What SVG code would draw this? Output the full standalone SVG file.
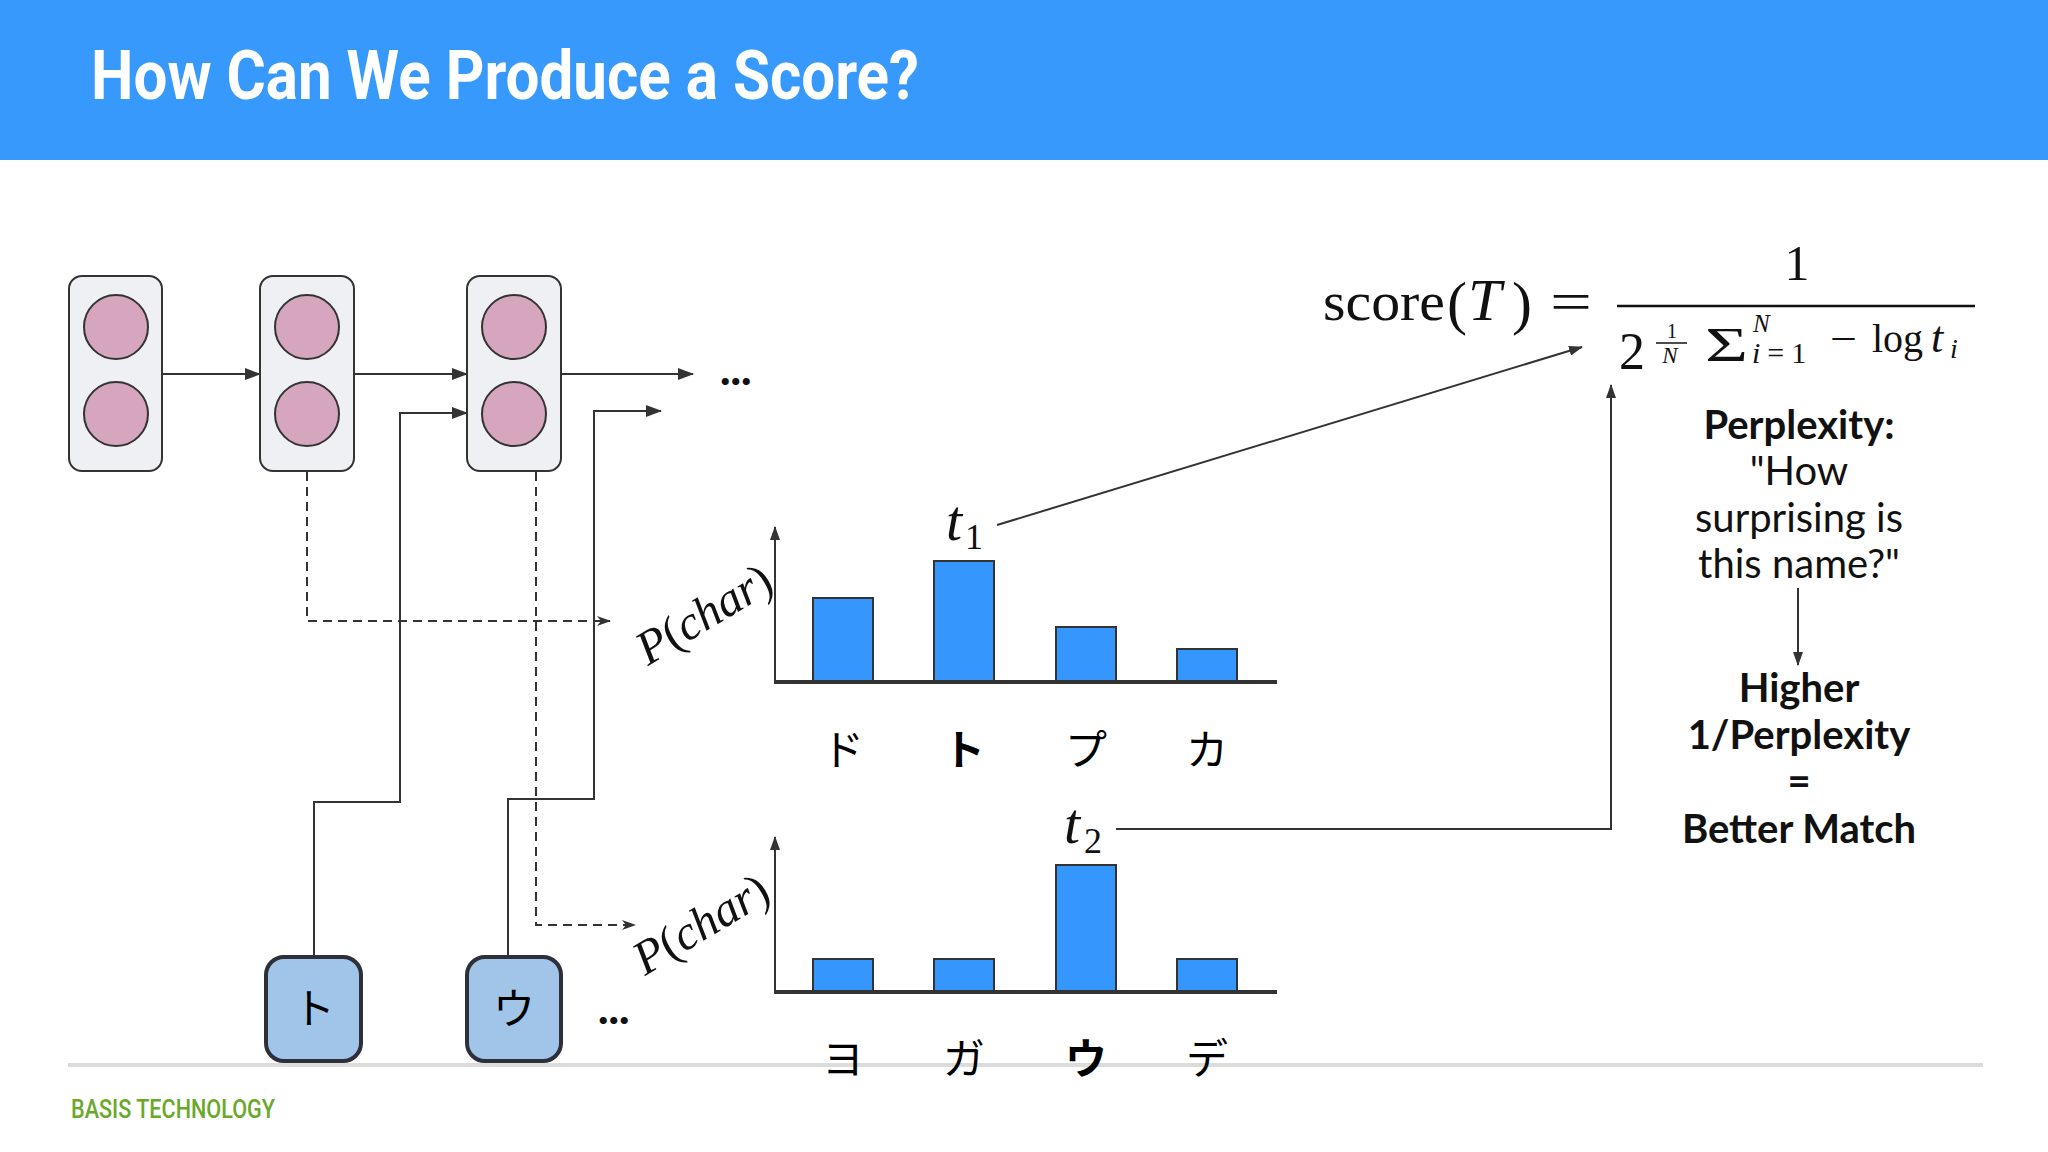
<svg xmlns="http://www.w3.org/2000/svg" width="2048" height="1152" viewBox="0 0 2048 1152">
<defs>
<style>
.cell{fill:#eff0f4;stroke:#333;stroke-width:2}
.unit{fill:#d5a6bd;stroke:#333;stroke-width:2}
.inp{fill:#a0c5e9;stroke:#2d3038;stroke-width:4}
.bar{fill:#3597fd;stroke:#333;stroke-width:2}
.ln{fill:none;stroke:#333;stroke-width:2}
.dash{fill:none;stroke:#333;stroke-width:2;stroke-dasharray:9 6}
.kana{font-family:"Noto Sans CJK JP",sans-serif;font-size:42px;fill:#000;text-anchor:middle}
.math{font-family:"Liberation Serif","Times New Roman",serif;fill:#111}
.it{font-style:italic}
.lato{font-family:Lato,"Open Sans",sans-serif;font-size:40px;fill:#111;text-anchor:middle}
.dots{font-family:Lato,"Open Sans",sans-serif;font-size:44px;font-weight:900;fill:#111}
</style>
<marker id="ah" markerUnits="userSpaceOnUse" markerWidth="16" markerHeight="12" refX="15" refY="6" orient="auto"><path d="M0,0 L16,6 L0,12 z" fill="#333"/></marker>
<marker id="ahs" markerUnits="userSpaceOnUse" markerWidth="14" markerHeight="10" refX="13" refY="5" orient="auto"><path d="M0,0 L14,5 L0,10 z" fill="#333"/></marker>
<marker id="ahd" markerUnits="userSpaceOnUse" markerWidth="14" markerHeight="10" refX="13" refY="5" orient="auto"><path d="M0,0 L14,5 L0,10 L4,5 z" fill="#333"/></marker>
</defs>
<rect width="2048" height="1152" fill="#fff"/>
<g id="header">
<rect x="0" y="0" width="2048" height="160" fill="#3899fc"/>
<text x="91" y="99" font-family="Roboto,'DejaVu Sans Condensed',sans-serif" font-weight="700" font-size="69" fill="#fff" textLength="828" lengthAdjust="spacingAndGlyphs">How Can We Produce a Score?</text>
</g>
<g id="footer">
<line x1="68" y1="1065" x2="1983" y2="1065" stroke="#dcdcdc" stroke-width="4"/>
<text x="71" y="1118" font-family="Roboto,'DejaVu Sans Condensed',sans-serif" font-weight="500" font-size="25" fill="#6aa82a" textLength="204" lengthAdjust="spacingAndGlyphs">BASIS TECHNOLOGY</text>
</g>
<g id="connectors">
<line class="ln" x1="162" y1="374" x2="260" y2="374" marker-end="url(#ah)"/>
<line class="ln" x1="354" y1="374" x2="467" y2="374" marker-end="url(#ah)"/>
<line class="ln" x1="561" y1="374" x2="693" y2="374" marker-end="url(#ah)"/>
<polyline class="ln" points="314,955 314,802 400,802 400,413 467,413" marker-end="url(#ah)"/>
<polyline class="ln" points="508,955 508,799 594,799 594,411 661,411" marker-end="url(#ah)"/>
<polyline class="dash" points="307,472 307,621 610,621" marker-end="url(#ahd)"/>
<polyline class="dash" points="536,472 536,925 635,925" marker-end="url(#ahd)"/>
<line class="ln" x1="997" y1="525" x2="1582" y2="347" marker-end="url(#ahs)"/>
<polyline class="ln" points="1116,829 1611,829 1611,385" marker-end="url(#ahs)"/>
<line class="ln" x1="1798" y1="588" x2="1798" y2="665" marker-end="url(#ahs)"/>
</g>
<g id="cell1">
<rect class="cell" x="69" y="276" width="93" height="195" rx="13"/>
<ellipse class="unit" cx="116" cy="327" rx="32" ry="32"/>
<ellipse class="unit" cx="116" cy="414" rx="32" ry="32"/>
</g>
<g id="cell2">
<rect class="cell" x="260" y="276" width="94" height="195" rx="13"/>
<ellipse class="unit" cx="307" cy="327" rx="32" ry="32"/>
<ellipse class="unit" cx="307" cy="414" rx="32" ry="32"/>
</g>
<g id="cell3">
<rect class="cell" x="467" y="276" width="94" height="195" rx="13"/>
<ellipse class="unit" cx="514" cy="327" rx="32" ry="32"/>
<ellipse class="unit" cx="514" cy="414" rx="32" ry="32"/>
</g>
<g id="dots-top"><text class="dots" x="720" y="385">...</text></g>
<g id="input1">
<rect class="inp" x="266" y="957" width="95" height="104" rx="18"/>
<text class="kana" x="314" y="1024" font-size="44">ト</text>
</g>
<g id="input2">
<rect class="inp" x="467" y="957" width="94" height="104" rx="18"/>
<text class="kana" x="514" y="1024" font-size="44">ウ</text>
</g>
<g id="dots-bottom"><text class="dots" x="598" y="1024">...</text></g>
<g id="chart1">
<line class="ln" x1="775" y1="682" x2="775" y2="527" marker-end="url(#ahs)"/>
<rect class="bar" x="813" y="598" width="60" height="84"/>
<rect class="bar" x="934" y="561" width="60" height="121"/>
<rect class="bar" x="1056" y="627" width="60" height="55"/>
<rect class="bar" x="1177" y="649" width="60" height="33"/>
<line x1="774" y1="682" x2="1277" y2="682" stroke="#333" stroke-width="4"/>
<text class="math" font-size="48" transform="translate(648,666) rotate(-31)"><tspan class="it">P</tspan>(<tspan class="it">char</tspan>)</text>
<text class="math it" x="946" y="540" font-size="58">t</text>
<text class="math" x="965" y="549" font-size="36">1</text>
<text class="kana" x="843" y="765">ド</text>
<text class="kana" x="964" y="765" font-weight="700">ト</text>
<text class="kana" x="1086" y="765">プ</text>
<text class="kana" x="1207" y="765">カ</text>
</g>
<g id="chart2">
<line class="ln" x1="775" y1="992" x2="775" y2="837" marker-end="url(#ahs)"/>
<rect class="bar" x="813" y="959" width="60" height="33"/>
<rect class="bar" x="934" y="959" width="60" height="33"/>
<rect class="bar" x="1056" y="865" width="60" height="127"/>
<rect class="bar" x="1177" y="959" width="60" height="33"/>
<line x1="774" y1="992" x2="1277" y2="992" stroke="#333" stroke-width="4"/>
<text class="math" font-size="48" transform="translate(645,976) rotate(-31)"><tspan class="it">P</tspan>(<tspan class="it">char</tspan>)</text>
<text class="math it" x="1064" y="843" font-size="58">t</text>
<text class="math" x="1084" y="853" font-size="36">2</text>
<text class="kana" x="843" y="1074">ヨ</text>
<text class="kana" x="964" y="1074">ガ</text>
<text class="kana" x="1086" y="1074" font-weight="700">ウ</text>
<text class="kana" x="1207" y="1074">デ</text>
</g>
<g id="formula">
<text class="math" x="1323" y="320" font-size="54" textLength="122" lengthAdjust="spacingAndGlyphs">score</text>
<text class="math" x="1447" y="323" font-size="60">(</text>
<text class="math it" x="1468" y="320" font-size="60">T</text>
<text class="math" x="1512" y="323" font-size="60">)</text>
<text class="math" x="1550" y="320" font-size="54" textLength="42" lengthAdjust="spacingAndGlyphs">=</text>
<text class="math" x="1797" y="280" font-size="50" text-anchor="middle">1</text>
<line x1="1617" y1="306" x2="1975" y2="306" stroke="#111" stroke-width="2.5"/>
<text class="math" x="1619" y="369" font-size="52">2</text>
<text class="math" x="1672" y="338" font-size="20" text-anchor="middle">1</text>
<line x1="1656" y1="343" x2="1687" y2="343" stroke="#111" stroke-width="1.5"/>
<text class="math it" x="1670" y="363" font-size="23" text-anchor="middle">N</text>
<text class="math" x="1705" y="361" font-size="48" textLength="43" lengthAdjust="spacingAndGlyphs">Σ</text>
<text class="math it" x="1753" y="332" font-size="25">N</text>
<text class="math" x="1752" y="363" font-size="30" letter-spacing="7"><tspan class="it">i</tspan>=1</text>
<text class="math" x="1830" y="353" font-size="42" textLength="27" lengthAdjust="spacingAndGlyphs">−</text>
<text class="math" x="1872" y="352" font-size="40">log</text>
<text class="math it" x="1931" y="352" font-size="44">t</text>
<text class="math it" x="1950" y="358" font-size="28">i</text>
</g>
<g id="explain">
<text class="lato" x="1799" y="439" font-weight="700">Perplexity:</text>
<text class="lato" x="1799" y="485">"How</text>
<text class="lato" x="1799" y="532">surprising is</text>
<text class="lato" x="1799" y="578">this name?"</text>
<text class="lato" x="1799" y="702" font-weight="700">Higher</text>
<text class="lato" x="1799" y="749" font-weight="700">1/Perplexity</text>
<text class="lato" x="1799" y="795" font-weight="700">=</text>
<text class="lato" x="1799" y="843" font-weight="700">Better Match</text>
</g>
</svg>
